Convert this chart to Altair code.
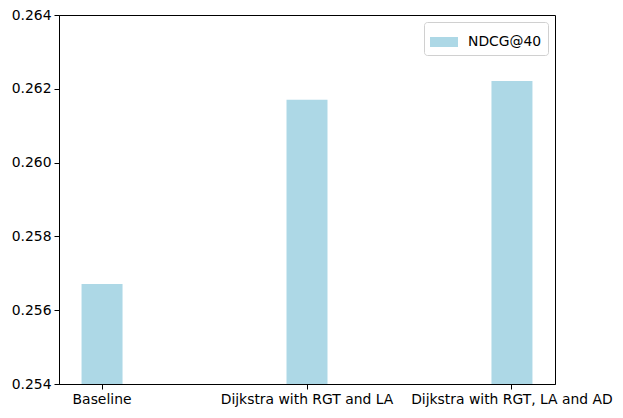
import altair as alt
import pandas as pd

categories = ["Baseline", "Dijkstra with RGT and LA", "Dijkstra with RGT, LA and AD"]
values = [0.25671, 0.26170, 0.26221]
series_name = "NDCG@40"
y_ticks = [0.254, 0.256, 0.258, 0.260, 0.262, 0.264]

df = pd.DataFrame({"category": categories, "value": values, "series": [series_name] * 3})

font = "DejaVu Sans"
fs = 13.9

chart = alt.Chart(df).mark_bar(clip=True).encode(
    x=alt.X("category:N", sort=categories, title=None,
            scale=alt.Scale(paddingInner=0.8, paddingOuter=0.11),
            axis=alt.Axis(labelAngle=0, ticks=True, tickSize=5, tickColor="black",
                          domainColor="black", labelColor="black", labelFontSize=fs,
                          labelFont=font, labelPadding=3, labelLimit=0, grid=False)),
    y=alt.Y("value:Q", title=None,
            scale=alt.Scale(domain=[0.254, 0.264], zero=False, nice=False),
            axis=alt.Axis(values=y_ticks, format=".3f", tickSize=5, tickColor="black",
                          domainColor="black", labelColor="black", labelFontSize=fs,
                          labelFont=font, labelPadding=3, grid=False)),
    y2=alt.datum(0.254),
    color=alt.Color("series:N", title=None,
                    scale=alt.Scale(domain=[series_name], range=["#add8e6"]),
                    legend=alt.Legend(orient="top-right", offset=7, padding=6,
                                      fillColor="white", strokeColor="#d0d0d0",
                                      cornerRadius=3, labelFontSize=fs, labelFont=font,
                                      labelColor="black", labelOffset=10,
                                      symbolType="M-1,-0.357L1,-0.357L1,0.357L-1,0.357Z",
                                      symbolSize=784, symbolOpacity=1,
                                      symbolStrokeWidth=0)),
).properties(
    width=496, height=369,
    autosize=alt.AutoSizeParams(type="none"),
    padding={"left": 51, "top": 7, "right": 60, "bottom": 30},
).configure_view(
    stroke="black", strokeWidth=1
).configure_axis(domainWidth=1, tickWidth=1)

chart.save("out.html", embed_options={"renderer": "svg", "actions": False})
